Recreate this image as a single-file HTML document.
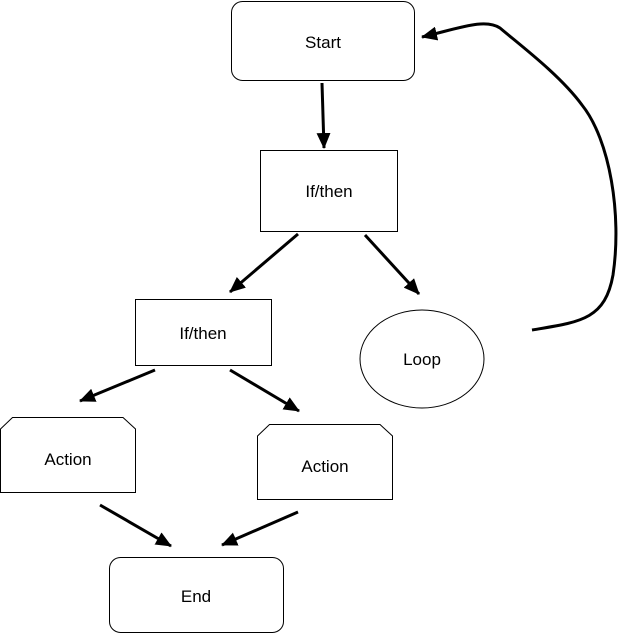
<!DOCTYPE html>
<html><head><style>html,body{margin:0;padding:0;background:#fff}svg{display:block}</style></head>
<body>
<svg width="626" height="642" viewBox="0 0 626 642" xmlns="http://www.w3.org/2000/svg" font-family="Liberation Sans, Arial, sans-serif" font-size="17" text-anchor="middle">
<defs>
<marker id="b" markerWidth="16" markerHeight="14" refX="15" refY="7" orient="auto" markerUnits="userSpaceOnUse" viewBox="0 0 16 14">
<path d="M0,0 L16,7 L0,14 z" fill="#000"/>
</marker>
</defs>
<g fill="#fff" stroke="#000" stroke-width="1">
<rect x="231.5" y="1.5" width="183" height="79" rx="11"/>
<rect x="260.5" y="150.5" width="137" height="81"/>
<rect x="135.5" y="299.5" width="136" height="66"/>
<ellipse cx="422" cy="359" rx="62" ry="49"/>
<path d="M0.5,429 L12.5,417.5 L123,417.5 L135.5,429 L135.5,492.5 L0.5,492.5 Z"/>
<path d="M257.5,436 L269.5,424.5 L380,424.5 L392.5,436 L392.5,499.5 L257.5,499.5 Z"/>
<rect x="109.5" y="557.5" width="174" height="75" rx="11"/>
</g>
<g fill="#000" stroke="none">
<text x="323" y="48">Start</text>
<text x="329" y="197">If/then</text>
<text x="203" y="339">If/then</text>
<text x="422" y="365">Loop</text>
<text x="68" y="465">Action</text>
<text x="325" y="472">Action</text>
<text x="196" y="602">End</text>
</g>
<g stroke="#000" stroke-width="3" fill="none" marker-end="url(#b)">
<line x1="322" y1="83" x2="324" y2="148"/>
<line x1="298" y1="234" x2="230" y2="292"/>
<line x1="365" y1="235" x2="419" y2="294"/>
<line x1="155" y1="370" x2="80" y2="401"/>
<line x1="230" y1="370" x2="299" y2="411"/>
<line x1="100" y1="505" x2="171" y2="546"/>
<line x1="298" y1="512" x2="222" y2="545"/>
<path d="M532,330 C580,322 605,320 613,275 C622,215 610,140 582,105 C560,75 520,45 500,28 C485,18 460,28 422,37"/>
</g>
</svg>
</body></html>
